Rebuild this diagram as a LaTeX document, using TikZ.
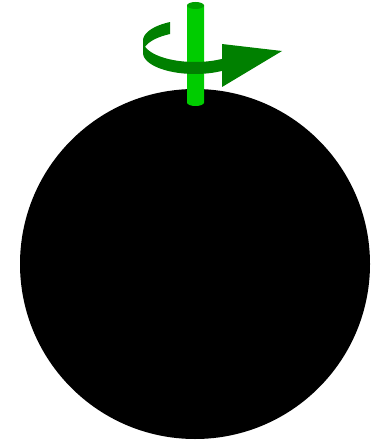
\documentclass[tikz,border=0pt]{standalone}
\definecolor{ribbon}{RGB}{0,128,0}
\definecolor{rodbody}{RGB}{0,204,0}
\definecolor{rodcap}{RGB}{0,160,0}
\begin{document}
\begin{tikzpicture}[x=1pt,y=-1pt]
\useasboundingbox (0,0) rectangle (381,441);
% sphere
\fill[black] (195,264) circle[radius=175pt];
% rod
\fill[rodbody] (187,5.5) -- (187,102.5) arc[start angle=180,end angle=360,x radius=8.5pt,y radius=3.5pt] -- (204,5.5) -- cycle;
\fill[rodcap] (195.5,5.5) ellipse[x radius=8.5pt,y radius=3.5pt];
% ribbon: back part
\fill[ribbon] plot[domain=241.3:178,samples=40,smooth] ({195+52*cos(\x)},{40.7+21.3*sin(\x)})
  -- plot[domain=178:241.3,samples=40,smooth] ({195+52*cos(\x)},{52.7+21.3*sin(\x)}) -- cycle;
% ribbon: front part
\fill[ribbon] plot[domain=182:58.0,samples=60,smooth] ({195+52*cos(\x)},{40.7+21.3*sin(\x)})
  -- plot[domain=58.0:182,samples=60,smooth] ({195+52*cos(\x)},{52.7+21.3*sin(\x)}) -- cycle;
% arrowhead
\fill[ribbon] (222,44) -- (282,51) -- (222,87) -- cycle;
\end{tikzpicture}
\end{document}
